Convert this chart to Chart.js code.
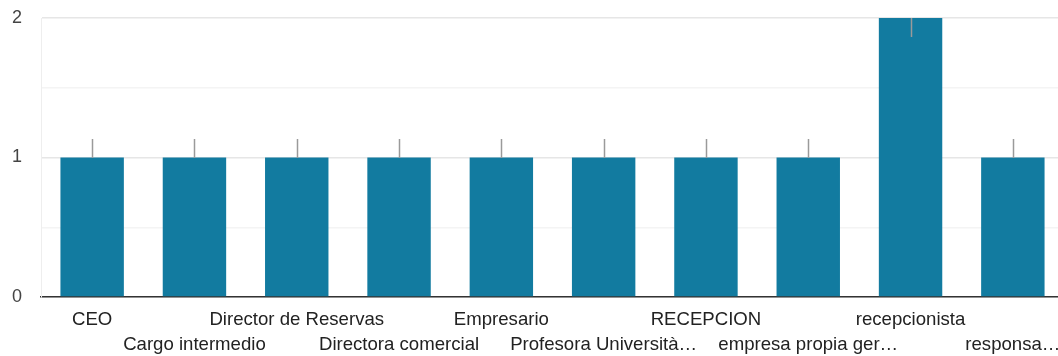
<!DOCTYPE html>
<html>
<head>
<meta charset="utf-8">
<script src="https://cdn.jsdelivr.net/npm/chart.js@4.4.0/dist/chart.umd.min.js"></script>
<style>
    html, body { margin: 0; padding: 0; background: #fff; overflow: hidden; }
    #wrap { position: relative; width: 1064px; height: 356px; }
</style>
</head>
<body>
<div id="wrap"><canvas id="chart"></canvas></div>
<script>
    'use strict';

    var categories = ['CEO', 'Cargo intermedio', 'Director de Reservas', 'Directora comercial',
        'Empresario', 'Profesora Università…', 'RECEPCION', 'empresa propia ger…',
        'recepcionista', 'responsa…'];
    var counts = [1, 1, 1, 1, 1, 1, 1, 1, 2, 1];
    var yTicks = [0, 1, 2];

    var barColor = '#127ba0';
    var fontFamily = "'Liberation Sans', Arial, sans-serif";

    // drop the extra room chart.js keeps for overhanging tick labels
    function noOverhang(scale) {
        scale.paddingLeft = 0;
        scale.paddingRight = 0;
        scale.paddingTop = 0;
        scale.paddingBottom = 0;
    }

    // small grey marker sitting on top of each bar
    var barMarks = {
        id: 'barMarks',
        afterDatasetsDraw: function (chart) {
            var ctx = chart.ctx,
                area = chart.chartArea,
                len = 19;
            chart.getDatasetMeta(0).data.forEach(function (bar) {
                var y0 = Math.round(bar.y),
                    y1 = y0 - len;
                if (y1 < area.top) {
                    y1 = y0 + len;
                }
                ctx.save();
                ctx.strokeStyle = '#9a9a9a';
                ctx.lineWidth = 1.5;
                ctx.beginPath();
                ctx.moveTo(Math.round(bar.x) + 0.5, y0);
                ctx.lineTo(Math.round(bar.x) + 0.5, y1);
                ctx.stroke();
                ctx.restore();
            });
        }
    };

    new Chart(document.getElementById('chart'), {
        type: 'bar',
        data: {
            labels: categories,
            datasets: [{
                data: counts,
                backgroundColor: barColor,
                borderWidth: 0,
                barPercentage: 0.62,
                categoryPercentage: 1
            }]
        },
        options: {
            responsive: true,
            maintainAspectRatio: false,
            animation: false,
            layout: { padding: { top: 18, right: 0, left: 0, bottom: 0 } },
            plugins: {
                legend: { display: false },
                tooltip: { enabled: false }
            },
            scales: {
                x: {
                    afterFit: function (scale) {
                        scale.height = 59;
                        noOverhang(scale);
                    },
                    grid: { display: false, drawTicks: false },
                    border: { color: '#333', width: 1.5 },
                    ticks: {
                        autoSkip: false,
                        maxRotation: 0,
                        minRotation: 0,
                        padding: 10,
                        color: '#222',
                        font: { family: fontFamily, size: 18.6, lineHeight: 1.35 },
                        callback: function (val, i) {
                            var name = categories[i];
                            return i % 2 === 0 ? [name, ''] : ['', name];
                        }
                    }
                },
                y: {
                    min: yTicks[0],
                    max: yTicks[yTicks.length - 1],
                    afterFit: function (scale) {
                        scale.width = 41;
                        noOverhang(scale);
                    },
                    afterBuildTicks: function (scale) {
                        var t = [];
                        for (var v = yTicks[0]; v <= yTicks[yTicks.length - 1]; v += 0.5) {
                            t.push({ value: v });
                        }
                        scale.ticks = t;
                    },
                    grid: {
                        drawTicks: false,
                        color: function (c) {
                            return c.tick && c.tick.value % 1 === 0 ? '#e6e6e6' : '#f4f4f4';
                        },
                        lineWidth: 1.5
                    },
                    border: { display: true, color: '#eeeeee' },
                    ticks: {
                        padding: 19,
                        color: '#444',
                        font: { family: fontFamily, size: 18 },
                        callback: function (v) {
                            return yTicks.indexOf(v) >= 0 ? String(v) : '';
                        }
                    }
                }
            }
        },
        plugins: [barMarks]
    });
</script>
</body>
</html>
